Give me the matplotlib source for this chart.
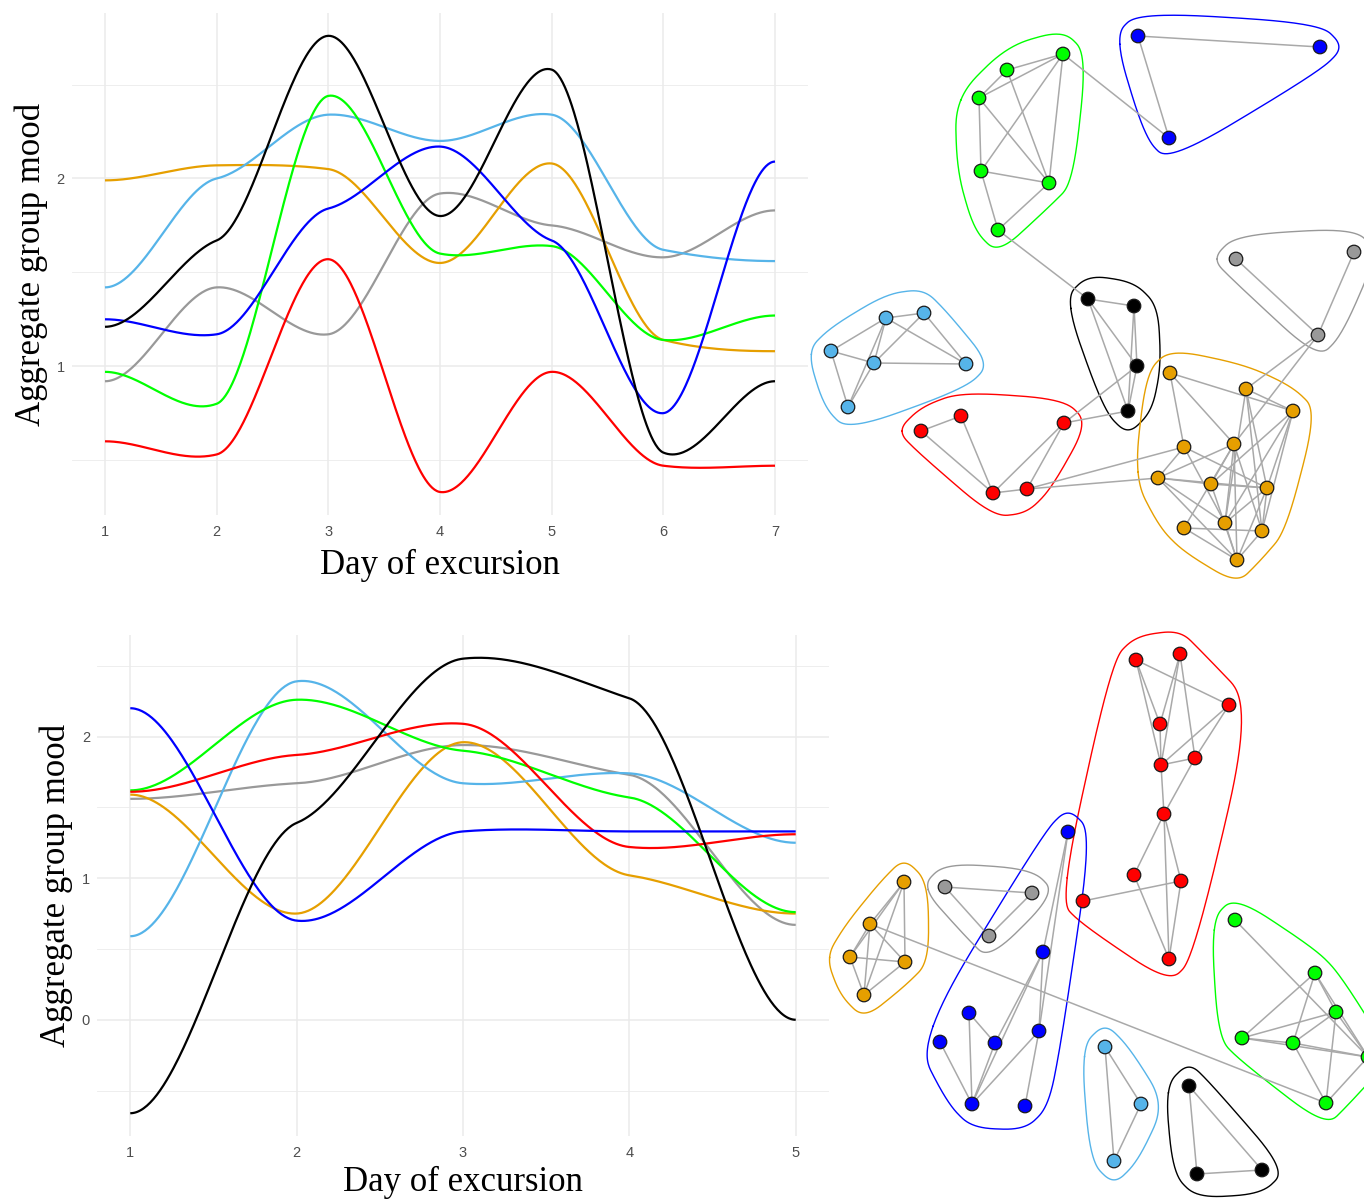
import numpy as np
import matplotlib
matplotlib.use("Agg")
import matplotlib.pyplot as plt

# ── Colours ─────────────────────────────────────────────────────────────────
C_BLACK, C_ORANGE, C_SKY = "#000000", "#E69F00", "#56B4E9"
C_GREEN, C_RED, C_BLUE, C_GREY = "#00FF00", "#FF0000", "#0000FF", "#999999"

# ── Excursion A: aggregate mood per group, days 1-7 ─────────────────────────
days_a = [1, 2, 3, 4, 5, 6, 7]
mood_a_grey = [0.92, 1.42, 1.17, 1.92, 1.75, 1.58, 1.83]
mood_a_orange = [1.99, 2.07, 2.05, 1.55, 2.08, 1.14, 1.08]
mood_a_sky = [1.42, 2.00, 2.34, 2.20, 2.34, 1.62, 1.56]
mood_a_green = [0.97, 0.80, 2.44, 1.60, 1.64, 1.14, 1.27]
mood_a_red = [0.60, 0.53, 1.57, 0.33, 0.97, 0.47, 0.47]
mood_a_blue = [1.25, 1.17, 1.84, 2.17, 1.67, 0.75, 2.09]
mood_a_black = [1.21, 1.67, 2.76, 1.80, 2.58, 0.54, 0.92]

# ── Excursion B: aggregate mood per group, days 1-5 ─────────────────────────
days_b = [1, 2, 3, 4, 5]
mood_b_grey = [1.56, 1.67, 1.94, 1.73, 0.67]
mood_b_orange = [1.59, 0.75, 1.96, 1.02, 0.75]
mood_b_sky = [0.59, 2.39, 1.67, 1.74, 1.25]
mood_b_green = [1.62, 2.26, 1.90, 1.57, 0.76]
mood_b_red = [1.61, 1.87, 2.09, 1.22, 1.31]
mood_b_blue = [2.20, 0.70, 1.33, 1.33, 1.33]
mood_b_black = [-0.66, 1.39, 2.55, 2.27, 0.00]

# ── Network A: layout (x, y), group colour, edges ───────────────────────────
net_a_x = [1063, 1007, 979, 981, 1049, 998,
           1138, 1320, 1169,
           1236, 1354, 1318,
           1088, 1134, 1137, 1128,
           886, 924, 831, 874, 966, 848,
           921, 961, 993, 1064, 1027,
           1170, 1246, 1293, 1184, 1234, 1158, 1211, 1267, 1184, 1225, 1262, 1237]
net_a_y = [54, 70, 98, 171, 183, 230,
           36, 47, 138,
           259, 252, 335,
           299, 306, 366, 411,
           318, 313, 351, 363, 364, 407,
           431, 416, 493, 423, 489,
           373, 389, 411, 447, 444, 478, 484, 488, 528, 523, 531, 560]
net_a_group = ([C_GREEN] * 6 + [C_BLUE] * 3 + [C_GREY] * 3 + [C_BLACK] * 4
               + [C_SKY] * 6 + [C_RED] * 5 + [C_ORANGE] * 12)
net_a_edges = [(1, 0), (2, 1), (2, 0), (1, 4), (2, 4), (2, 3), (3, 0), (0, 4), (3, 4), (3, 5), (4, 5),
               (0, 8), (5, 12), (6, 7), (6, 8), (9, 11), (10, 11), (11, 28), (11, 31),
               (12, 13), (12, 14), (12, 15), (13, 14), (13, 15), (14, 15), (14, 25), (15, 25),
               (16, 17), (16, 18), (16, 19), (16, 21), (16, 20), (17, 19), (17, 20), (18, 19),
               (18, 21), (19, 20), (19, 21),
               (22, 23), (22, 24), (23, 24), (24, 25), (24, 26), (25, 26), (26, 32), (26, 30),
               (27, 29), (28, 29), (27, 30), (27, 31), (28, 34), (28, 36), (28, 37), (29, 33),
               (29, 36), (29, 37), (29, 34), (30, 32), (30, 34), (30, 36), (32, 31), (32, 33),
               (32, 34), (32, 36), (32, 38), (31, 33), (31, 35), (31, 36), (31, 38), (31, 37),
               (33, 34), (33, 38), (34, 36), (34, 37), (35, 37), (35, 38), (36, 38), (37, 38),
               (34, 38)]

# ── Network B ───────────────────────────────────────────────────────────────
net_b_x = [1136, 1180, 1229, 1160, 1161, 1195, 1164, 1134, 1181, 1083, 1169,
           1068, 1043, 969, 940, 995, 1039, 972, 1025,
           945, 1032, 989,
           904, 870, 850, 905, 864,
           1105, 1141, 1114,
           1189, 1197, 1262,
           1235, 1315, 1336, 1242, 1293, 1368, 1326]
net_b_y = [660, 654, 705, 724, 765, 758, 814, 875, 881, 901, 959,
           832, 952, 1013, 1042, 1043, 1031, 1104, 1106,
           887, 893, 936,
           882, 924, 957, 962, 995,
           1047, 1104, 1161,
           1086, 1174, 1170,
           920, 973, 1012, 1038, 1043, 1057, 1103]
net_b_group = ([C_RED] * 11 + [C_BLUE] * 8 + [C_GREY] * 3 + [C_ORANGE] * 5
               + [C_SKY] * 3 + [C_BLACK] * 3 + [C_GREEN] * 7)
net_b_edges = [(0, 3), (0, 4), (0, 2), (1, 3), (1, 4), (1, 5), (2, 4), (2, 5), (3, 4), (4, 5),
               (5, 6), (4, 6), (6, 7), (6, 10), (6, 8), (7, 10), (8, 10), (8, 9),
               (11, 12), (11, 16), (12, 16), (12, 17), (12, 15), (13, 15), (13, 17), (14, 17),
               (15, 17), (16, 17), (16, 18),
               (19, 20), (19, 21), (20, 21),
               (22, 23), (22, 24), (22, 25), (22, 26), (23, 24), (23, 25), (23, 26), (24, 25),
               (24, 26), (25, 26), (23, 39),
               (27, 28), (27, 29), (28, 29), (30, 31), (30, 32), (31, 32),
               (33, 38), (34, 36), (34, 37), (34, 35), (34, 38), (35, 36), (35, 37), (35, 39),
               (35, 38), (36, 37), (36, 38), (37, 38), (37, 39), (39, 38)]


# ── Curve helpers ───────────────────────────────────────────────────────────
def hermite_curve(x, y, tension=0.3, steps=100):
    """Cubic Hermite through the points, tangents = tension * centred slope."""
    x = np.asarray(x, float)
    y = np.asarray(y, float)
    m = np.zeros_like(y)
    m[1:-1] = tension * (y[2:] - y[:-2]) / (x[2:] - x[:-2])
    t = np.linspace(0, 1, steps, endpoint=False)
    h00, h10 = 2 * t ** 3 - 3 * t ** 2 + 1, t ** 3 - 2 * t ** 2 + t
    h01, h11 = -2 * t ** 3 + 3 * t ** 2, t ** 3 - t ** 2
    xs, ys = [], []
    for k in range(len(x) - 1):
        dx = x[k + 1] - x[k]
        xs.append(x[k] + t * dx)
        ys.append(h00 * y[k] + h10 * dx * m[k] + h01 * y[k + 1] + h11 * dx * m[k + 1])
    xs.append(x[-1:])
    ys.append(y[-1:])
    return np.concatenate(xs), np.concatenate(ys)


# closed X-spline (Blanc & Schlick, positive shape) for igraph-like group outlines
def f_blend(num, den):
    p = 2.0 * den * den
    u = num / den
    return u ** 3 * (10 - p + (2 * p - 15) * u + (6 - p) * u * u)


def closed_xspline(x, y, s=0.5, steps=40):
    n = len(x)
    t = np.linspace(0, 1, steps, endpoint=False)
    a0 = np.where(t < s, f_blend(t - s, -1 - s), 0.0)
    a2 = f_blend(t + s, 1 + s)
    a1 = f_blend(t - 1 - s, -1 - s)
    a3 = np.where(t > 1 - s, f_blend(t - 1 + s, 1 + s), 0.0)
    tot = a0 + a1 + a2 + a3
    xs, ys = [], []
    for k in range(n):
        q = ((k - 1) % n, k, (k + 1) % n, (k + 2) % n)
        xs.append((a0 * x[q[0]] + a1 * x[q[1]] + a2 * x[q[2]] + a3 * x[q[3]]) / tot)
        ys.append((a0 * y[q[0]] + a1 * y[q[1]] + a2 * y[q[2]] + a3 * y[q[3]]) / tot)
    xs.append(xs[0][:1])
    ys.append(ys[0][:1])
    return np.concatenate(xs), np.concatenate(ys)


def convex_hull(pts):
    pts = sorted(set(map(tuple, pts)))

    def cross(o, a, b):
        return (a[0] - o[0]) * (b[1] - o[1]) - (a[1] - o[1]) * (b[0] - o[0])

    lower, upper = [], []
    for p in pts:
        while len(lower) >= 2 and cross(lower[-2], lower[-1], p) <= 0:
            lower.pop()
        lower.append(p)
    for p in reversed(pts):
        while len(upper) >= 2 and cross(upper[-2], upper[-1], p) <= 0:
            upper.pop()
        upper.append(p)
    return np.array(lower[:-1] + upper[:-1])


# ── Figure ──────────────────────────────────────────────────────────────────
W, H = 1364, 1200
fig = plt.figure(figsize=(W / 100, H / 100), dpi=100)
fig.patch.set_facecolor("white")


def px_axes(x0, y0, x1, y1):
    return fig.add_axes([x0 / W, 1 - y1 / H, (x1 - x0) / W, (y1 - y0) / H])


SERIF = ["Liberation Serif", "DejaVu Serif"]
SANS = ["Liberation Sans", "DejaVu Sans"]


def mood_panel(ax, days, series, yticks, yminor, xlabelpad):
    lo, hi = np.inf, -np.inf
    for color, vals in series:
        sx, sy = hermite_curve(days, vals)
        ax.plot(sx, sy, color=color, lw=1.6, solid_capstyle="butt", zorder=3)
        lo, hi = min(lo, sy.min()), max(hi, sy.max())
    pad = 0.05 * (hi - lo)
    ax.set_ylim(lo - pad, hi + pad)
    xpad = 0.05 * (days[-1] - days[0])
    ax.set_xlim(days[0] - xpad, days[-1] + xpad)
    ax.set_xticks(days)
    ax.set_yticks(yticks)
    ax.set_yticks(yminor, minor=True)
    ax.set_xticks([], minor=True)
    ax.grid(True, which="major", color="#EBEBEB", lw=1.1)
    ax.grid(True, which="minor", axis="y", color="#EBEBEB", lw=0.6)
    ax.set_axisbelow(True)
    for sp in ax.spines.values():
        sp.set_visible(False)
    ax.tick_params(which="both", length=0, labelsize=10.5, labelcolor="#4D4D4D")
    ax.tick_params(axis="x", pad=7)
    ax.tick_params(axis="y", pad=5)
    for lab in ax.get_xticklabels() + ax.get_yticklabels():
        lab.set_family(SANS)
    ax.set_xlabel("Day of excursion", family=SERIF, fontsize=25, labelpad=xlabelpad)
    ax.set_ylabel("Aggregate group mood", family=SERIF, fontsize=25, labelpad=6)


ax1 = px_axes(71.5, 13, 808.5, 515)
mood_panel(ax1, days_a,
           [(C_GREY, mood_a_grey), (C_ORANGE, mood_a_orange), (C_SKY, mood_a_sky),
            (C_GREEN, mood_a_green), (C_RED, mood_a_red), (C_BLUE, mood_a_blue),
            (C_BLACK, mood_a_black)],
           [1, 2], [0.5, 1.5, 2.5], xlabelpad=7)

ax3 = px_axes(97, 635, 829, 1136)
mood_panel(ax3, days_b,
           [(C_GREY, mood_b_grey), (C_ORANGE, mood_b_orange), (C_SKY, mood_b_sky),
            (C_GREEN, mood_b_green), (C_RED, mood_b_red), (C_BLUE, mood_b_blue),
            (C_BLACK, mood_b_black)],
           [0, 1, 2], [-0.5, 0.5, 1.5, 2.5], xlabelpad=4.5)


def network_panel(ax, xs, ys, groups, edges, expand=24):
    xs = np.asarray(xs, float)
    ys = np.asarray(ys, float)
    groups = np.asarray(groups)
    # group outlines (igraph style: padded convex hull + closed x-spline)
    for g in dict.fromkeys(groups):
        m = groups == g
        gx, gy = xs[m], ys[m]
        pts = np.concatenate([np.c_[gx, gy], np.c_[gx - expand, gy], np.c_[gx + expand, gy],
                              np.c_[gx, gy - expand], np.c_[gx, gy + expand]])
        hull = convex_hull(pts)
        hx, hy = closed_xspline(hull[:, 0], hull[:, 1])
        ax.plot(hx, hy, color=g, lw=1.0, zorder=1)
    for a, b in edges:
        ax.plot([xs[a], xs[b]], [ys[a], ys[b]], color="#A9A9A9", lw=1.1, zorder=2)
    ax.scatter(xs, ys, s=95, c=list(groups), edgecolors="#1a1a1a", linewidths=0.9, zorder=3)
    ax.axis("off")


ax2 = px_axes(800, 0, 1400, 600)
ax2.set_xlim(800, 1400)
ax2.set_ylim(600, 0)
network_panel(ax2, net_a_x, net_a_y, net_a_group, net_a_edges)

ax4 = px_axes(820, 610, 1400, 1200)
ax4.set_xlim(820, 1400)
ax4.set_ylim(1200, 610)
network_panel(ax4, net_b_x, net_b_y, net_b_group, net_b_edges)

fig.savefig("out.png", dpi=100, facecolor="white")
